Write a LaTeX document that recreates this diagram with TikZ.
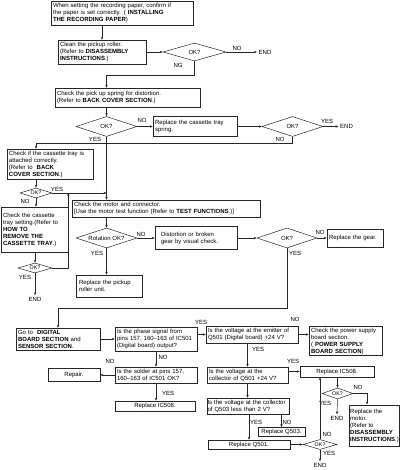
\documentclass[tikz,border=0pt]{standalone}
\usepackage{fontspec}
\setmainfont{Liberation Sans}
\usetikzlibrary{arrows.meta,positioning,calc,shapes.geometric}

\begin{document}
\begin{tikzpicture}[
    x=1pt, y=-1pt,
    every node/.style={font=\fontsize{6}{7}\selectfont},
    box/.style={rectangle, draw=black!85, line width=0.5pt,
                inner xsep=2pt, inner ysep=1pt, align=left},
    cbox/.style={box, align=center},
    dia/.style={diamond, draw=black!85, line width=0.5pt,
                inner sep=0pt, aspect=3},
    sdia/.style={dia, font=\fontsize{5.3}{6}\selectfont, aspect=3.2},
    lbl/.style={inner sep=0.5pt},
    endt/.style={inner sep=1.5pt},
    arr/.style={-{Stealth[length=3pt,width=2.4pt]}, line width=0.5pt, draw=black!85},
]
\useasboundingbox (0,0) rectangle (400,470);

%% --- paper / pickup roller ---
\node[box, text width=138pt, minimum height=24pt] (b1) at (122,13)
    {When setting the recording paper, confirm if\\
     the paper is set correctly. ( \textbf{INSTALLING}\\
     \textbf{THE RECORDING PAPER})};
\node[box, text width=84pt, minimum height=24pt] (b2) at (102,52)
    {Clean the pickup roller.\\(Refer to \textbf{DISASSEMBLY}\\\textbf{INSTRUCTIONS}.)};
\node[dia, minimum width=63pt, minimum height=18pt] (d1) at (194.5,52) {OK?};
\node[endt] (e1) at (265,52) {END};

%% --- pick up spring ---
\node[box, text width=141pt, minimum height=19pt] (b3) at (127.5,97.5)
    {Check the pick up spring for distortion.\\(Refer to \textbf{BACK COVER SECTION}.)};
\node[dia, minimum width=61pt, minimum height=20pt] (d2) at (106.5,126.5) {OK?};
\node[box, text width=80pt, minimum height=20pt] (b4) at (195,126.5)
    {Replace the cassette tray\\spring.};
\node[dia, minimum width=61pt, minimum height=20pt] (d3) at (292.5,126.5) {OK?};
\node[endt] (e2) at (346.5,126.5) {END};

%% --- cassette tray ---
\node[box, text width=82pt, minimum height=30pt] (b5) at (50,164)
    {Check if the cassette tray is\\ attached correctly.\\(Refer to \ \textbf{BACK}\\\textbf{COVER SECTION}.)};
\node[sdia, minimum width=32pt, minimum height=10pt] (d4) at (36,193) {OK?};
\node[box, text width=63pt, minimum height=45pt] (b6) at (34.5,229.5)
    {Check the cassette\\tray setting.(Refer to\\ \textbf{HOW TO}\\\textbf{REMOVE THE}\\\textbf{CASSETTE TRAY}.)};
\node[sdia, minimum width=34pt, minimum height=10pt] (d5) at (35,268) {OK?};
\node[endt] (e3) at (35,299) {END};
\coordinate (j1) at (d4.east -| b6.east);

%% --- motor and gear ---
\node[box, text width=184pt, minimum height=17pt] (b7) at (166,208.5)
    {Check the motor and connector.\\
     {[}Use the motor test function (Refer to \textbf{TEST FUNCTIONS}.)]};
\node[dia, minimum width=61pt, minimum height=20pt] (d6) at (106.5,238) {Rotation OK?};
\node[box, text width=70pt, inner xsep=6pt, minimum height=23pt] (b8) at (196,238)
    {Distortion or broken\\gear by visual check.};
\node[box, text width=60pt, inner xsep=3pt, minimum height=22pt] (b9) at (109,286)
    {Replace the pickup\\roller unit.};
\node[dia, minimum width=60pt, minimum height=20pt] (d7) at (287,238) {OK?};
\node[box, text width=52pt, minimum height=18pt] (b10) at (355,238)
    {Replace the gear.};

%% --- digital board ---
\node[box, text width=80pt, minimum height=22pt] (b11) at (58,339)
    {Go to \ \textbf{DIGITAL}\\\textbf{BOARD SECTION} and\\ \textbf{SENSOR SECTION}.};
\node[box, text width=78pt, minimum height=24pt] (b12) at (156,339)
    {Is the phase signal from\\pins 157, 160--163 of IC501\\(Digital board) output?};
\node[box, text width=78pt, minimum height=16pt] (b13) at (156,375)
    {Is the solder at pins 157,\\160--163 of IC501 OK?};
\node[cbox, minimum width=52pt, minimum height=13pt] (b14) at (74,375) {Repair.};
\node[cbox, minimum width=80pt, minimum height=10pt] (b15) at (155,406) {Replace IC508.};

%% --- Q501 / Q503 ---
\node[box, text width=88pt, minimum height=17pt] (b16) at (252,334.5)
    {Is the voltage at the emitter of\\Q501 (Digital board) +24 V?};
\node[box, text width=69pt, minimum height=28pt] (b17) at (345.5,341)
    {Check the power supply\\board section.\\( \textbf{POWER SUPPLY}\\\textbf{BOARD SECTION})};
\node[box, text width=77pt, minimum height=16pt] (b18) at (247.5,375)
    {Is the voltage at the\\collector of Q501 +24 V?};
\node[cbox, minimum width=74pt, minimum height=11pt] (b19) at (337,371.5) {Replace IC508.};
\node[box, text width=81pt, inner xsep=0.5pt, minimum height=16pt] (b20) at (248,406)
    {\mbox{Is the voltage at the collector}\\of Q503 less than 2 V?};
\node[cbox, minimum width=47pt, minimum height=9pt] (b21) at (281.5,432) {Replace Q503.};
\node[cbox, minimum width=82pt, minimum height=9pt] (b22) at (249,444.5) {Replace Q501.};
\node[sdia, minimum width=34pt, minimum height=10pt] (d9) at (320,444.5) {OK?};
\node[endt] (e4) at (320,465) {END};
\node[sdia, minimum width=31pt, minimum height=11pt] (d8) at (337.5,393.5) {OK?};
\node[endt] (e5) at (337,418) {END};
\node[box, line width=1pt, inner xsep=1pt, minimum height=41pt] (b23) at (374.5,425.5)
    {Replace the\\motor.\\(Refer to\\\textbf{DISASSEMBLY}\\\textbf{INSTRUCTIONS}.)};

%% --- labels ---
\node[lbl] (l1) at (237,48) {NO};
\node[lbl] (l2) at (178,65) {NG};
\node[lbl] (l3) at (142,120) {NO};
\node[lbl] (l4) at (95,139) {YES};
\node[lbl] (l5) at (327,121) {YES};
\node[lbl] (l6) at (280,139) {NO};
\node[lbl] (l7) at (57,189) {YES};
\node[lbl] (l8) at (25,201) {NO};
\node[lbl] (l9) at (25,277) {YES};
\node[lbl] (l10) at (141,234) {NO};
\node[lbl] (l11) at (97,253) {YES};
\node[lbl] (l12) at (320,232) {NO};
\node[lbl] (l13) at (295,253) {YES};
\node[lbl] (l14) at (163,357) {NO};
\node[lbl] (l15) at (110,361) {NO};
\node[lbl] (l16) at (168,393) {YES};
\node[lbl] (l17) at (201,322) {YES};
\node[lbl] (l18) at (295,319) {NO};
\node[lbl] (l19) at (258,349) {YES};
\node[lbl] (l20) at (293,361) {YES};
\node[lbl] (l21) at (256,422) {YES};
\node[lbl] (l22) at (287,422) {NO};
\node[lbl] (l23) at (327,434) {NO};
\node[lbl] (l24) at (329,453) {YES};
\node[lbl] (l25) at (358,387) {NO};
\node[lbl] (l26) at (325,403) {YES};

%% --- connectors: top ---
\draw[arr] (b1.south -| b2.north) -- (b2.north);
\draw[arr] (b2.east) -- (d1.west);
\draw[arr] (d1.east) -- (e1.west);
\draw[arr] (d1.south) -- ++(0,14) -| (b3.north -| d2);
\draw[arr] (b3.south -| d2) -- (d2.north);
\draw[arr] (d2.east) -- (b4.west);
\draw[arr] (b4.east) -- (d3.west);
\draw[arr] (d3.east) -- (e2.west);
\draw[arr] (d3.south) -- ++(0,7) -| (b5.north -| d4);
\draw[arr] (d2.south) -- (b7.north -| d2);

%% --- connectors: cassette tray ---
\draw[arr] (b5.south -| d4) -- (d4.north);
\draw[arr] (d4.east) -- (d4.east -| d2);
\draw[arr] (d4.south) -- (b6.north -| d4);
\draw[arr] (b6.south -| d5) -- (d5.north);
\draw[arr] (d5.east) -| (j1);
\draw[arr] (d5.south) -- (e3.north);

%% --- connectors: motor ---
\draw[arr] (b7.south -| d6) -- (d6.north);
\draw[arr] (d6.east) -- (b8.west);
\draw[arr] (d6.south) -- (b9.north -| d6);
\draw[arr] (b8.east) -- (d7.west);
\draw[arr] (d7.east) -- (b10.west);
\draw[arr] (d7.south) -- ++(0,60) -| (b11.north);

%% --- connectors: digital board ---
\draw[arr] (b11.east) -- (b12.west);
\draw[arr] (b12.south) -- (b13.north);
\draw[arr] (b13.west) -- (b14.east);
\draw[arr] (b13.south) -- (b13.south |- b15.north);
\draw[arr] (b12.east |- b16.west) -- (b16.west);
\draw[arr] (b16.east) -- (b16.east -| b17.west);
\draw[arr] (b16.south -| b18) -- (b18.north);
\draw[arr] (b18.east |- b19.west) -- (b19.west);
\draw[arr] (b18.south) -- (b18.south |- b20.north);
\draw[arr] (b20.south -| b22) -- (b22.north);
\draw[arr] (b20.south -| b21) -- (b21.north);
\draw[arr] (b22.east) -- (d9.west);
\draw[arr] (d9.north) -- (d9.north |- b19.south);
\draw[arr] (d9.south) -- (e4.north);
\draw[arr] (b19.south -| d8) -- (d8.north);
\draw[arr] (d8.east) -| ($(b23.north)+(-7.5,0)$);
\draw[arr] (d8.south) -- (e5.north);

\end{tikzpicture}
\end{document}
